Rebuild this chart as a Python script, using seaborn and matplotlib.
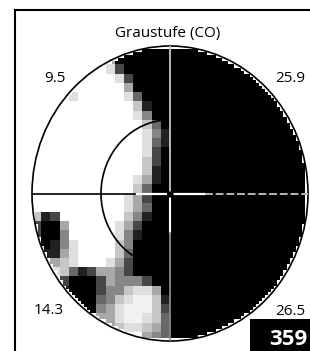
import numpy as np
import matplotlib
matplotlib.use("Agg")
import matplotlib.pyplot as plt
import seaborn as sns
from matplotlib.patches import Ellipse, Rectangle
from matplotlib.lines import Line2D

# ---------------- data ----------------
title = "Graustufe (CO)"
label_top_left = "9.5"
label_top_right = "25.9"
label_bottom_left = "14.3"
label_bottom_right = "26.5"
score = "359"

# grey level per cell (0 = white ... 9 = black), rows top -> bottom, 30 columns
grey_rows = [
    "000000009999999999999999999999",
    "000000004999999999999999999999",
    "000000002799999999999999999999",
    "000000000279999999999999999999",
    "000000000049999999999999999999",
    "000020000026999999999999999999",
    "000000000003899999999999999999",
    "000000000002599999999999999999",
    "000000000000369999999999999999",
    "000000000000258999999999999999",
    "000000000000268999999999999999",
    "000000000000279999999999999999",
    "000000000000379999999999999999",
    "000000000000389999999999999999",
    "000000000002489999999999999999",
    "000000000003699999999999999999",
    "000000000024799999999999999999",
    "000000000024699999999999999999",
    "387000000035899999999999999999",
    "799400000247999999999999999999",
    "799500000258999999999999999999",
    "598520000359999999999999999999",
    "388420000369999999999999999999",
    "034320002479999999999999999999",
    "002368744579999999999999999999",
    "003799974555799999999999999999",
    "004899975532249999999999999999",
    "000699965321138999999999999999",
    "000009954211137999999999999999",
    "000000644211236999999999999999",
    "000000004322346999999999999999",
    "000000000000456999999999999999",
]

# ---------------- figure ----------------
W, H = 310, 351
fig = plt.figure(figsize=(W / 100, H / 100), dpi=100)
fig.patch.set_facecolor("white")

FONT = ["Open Sans", "DejaVu Sans"]

# field ellipse in pixel coordinates
x0, x1 = 32, 308
y_top, y_bot = 46, 341
rect = [x0 / W, 1 - y_bot / H, (x1 - x0) / W, (y_bot - y_top) / H]

grid = np.array([[int(c) for c in r] for r in grey_rows], dtype=float)
f = 3
fine = np.kron(grid, np.ones((f, f)))
nr, nc = fine.shape
cx = -1 + np.arange(nc + 1) * 2 / nc
cy = 1 - np.arange(nr + 1) * 2 / nr
inside_c = (cx[None, :] ** 2 + cy[:, None] ** 2) <= 1.0
inside = inside_c[:-1, :-1] & inside_c[:-1, 1:] & inside_c[1:, :-1] & inside_c[1:, 1:]
mask = ~inside

ax = fig.add_axes(rect)
sns.heatmap(fine, mask=mask, cmap="Greys", vmin=0, vmax=9, cbar=False,
            xticklabels=False, yticklabels=False, ax=ax)
ax.set_axis_off()

ax2 = fig.add_axes(rect)
ax2.set_xlim(-1, 1)
ax2.set_ylim(-1, 1)
ax2.set_axis_off()
ax2.patch.set_alpha(0)

ax2.add_patch(Ellipse((0, 0), 2, 2, fill=False, ec="black", lw=1.2, clip_on=False))
ax2.add_patch(Ellipse((0, 0), 1, 1, fill=False, ec="black", lw=1.2, clip_on=False))

# horizontal axis
ax2.plot([-1, -0.24], [0, 0], color="black", lw=1.2)
ax2.plot([-0.24, -0.03], [0, 0], color="white", lw=1.6)
ax2.plot([0.03, 0.25], [0, 0], color="white", lw=1.6)
ax2.plot([0.25, 1], [0, 0], color="#b8b8b8", lw=1.4, ls=(0, (4, 1.5)))
# vertical axis
ax2.plot([0, 0], [0.02, 1], color="#c8c8c8", lw=1.3)
ax2.plot([0, 0], [-0.02, -0.27], color="white", lw=1.5)
ax2.plot([0, 0], [-0.27, -1], color="#8a8a8a", lw=1.3)
ax2.plot([0], [0], marker="o", ms=3.5, color="black")

# frame
fig.add_artist(Line2D([15 / W, 15 / W], [0, 1 - 10 / H], color="black", lw=1.5))
fig.add_artist(Line2D([15 / W, 1], [1 - 10 / H, 1 - 10 / H], color="black", lw=1.5))

# texts
fig.text(168 / W, 1 - 37 / H, title, ha="center", va="baseline", fontsize=11, family=FONT)
fig.text(55 / W, 1 - 82 / H, label_top_left, ha="center", va="baseline", fontsize=11, family=FONT)
fig.text(305 / W, 1 - 82 / H, label_top_right, ha="right", va="baseline", fontsize=11, family=FONT)
fig.text(34 / W, 1 - 314 / H, label_bottom_left, ha="left", va="baseline", fontsize=11, family=FONT)
fig.text(305 / W, 1 - 315 / H, label_bottom_right, ha="right", va="baseline", fontsize=11, family=FONT)

fig.add_artist(Rectangle((250 / W, 0), 60 / W, 32 / H, transform=fig.transFigure,
                         facecolor="black", edgecolor="none"))
fig.text(307 / W, 1 - 345 / H, score, ha="right", va="baseline", fontsize=16,
         fontweight="bold", color="white", family=FONT)

fig.savefig("out.png", dpi=100)
